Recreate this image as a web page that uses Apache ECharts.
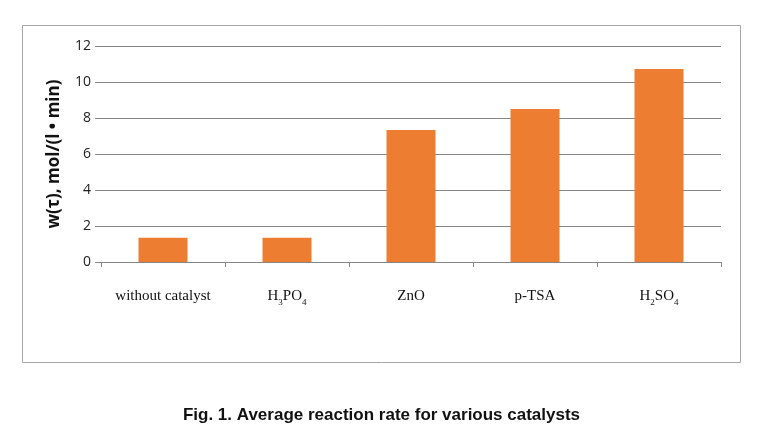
<!DOCTYPE html>
<html><head><meta charset="utf-8">
<script src="https://cdn.jsdelivr.net/npm/echarts@6/dist/echarts.min.js"></script>
<style>html,body{margin:0;padding:0;background:#fff}#c{width:763px;height:424px}</style>
</head><body><div id="c"></div>
<script>
const categories = ['without catalyst', 'H3PO4', 'ZnO', 'p-TSA', 'H2SO4'];
const categoryLabels = ['{n|without catalyst}', '{n|H}{s|3}{n|PO}{s|4}', '{n|ZnO}', '{n|p-TSA}', '{n|H}{s|2}{n|SO}{s|4}'];
const rates = [1.35, 1.35, 7.33, 8.5, 10.72];
const yTicks = [0, 2, 4, 6, 8, 10, 12];

const chart = echarts.init(document.getElementById('c'));
chart.setOption({
  animation: false,
  backgroundColor: '#fff',
  title: {
    text: 'Fig. 1. Average reaction rate for various catalysts',
    left: 'center', top: 402,
    textStyle: {fontFamily: 'Liberation Sans', fontWeight: 'bold', fontSize: 17, color: '#111'}
  },
  graphic: [{
    type: 'rect', shape: {x: 22.5, y: 25.5, width: 718, height: 337},
    style: {fill: 'none', stroke: '#a6a6a6', lineWidth: 1}
  }],
  grid: {left: 101, right: 42, top: 46, bottom: 162},
  xAxis: {
    type: 'category',
    data: categories,
    axisLine: {lineStyle: {color: '#868686', width: 1}},
    axisTick: {show: true, interval: 0, length: 5, lineStyle: {color: '#868686'}},
    axisLabel: {
      interval: 0,
      margin: 24,
      formatter: (v, i) => categoryLabels[i],
      rich: {
        n: {fontFamily: 'Liberation Serif', fontSize: 15, color: '#111', lineHeight: 18, verticalAlign: 'bottom'},
        s: {fontFamily: 'Liberation Serif', fontSize: 9, color: '#111', lineHeight: 18, verticalAlign: 'bottom', padding: [0, 0, -3, 0]}
      }
    }
  },
  yAxis: {
    type: 'value', min: 0, max: 12, interval: 2,
    name: 'w(τ), mol/(l • min)',
    nameLocation: 'middle', nameGap: 38,
    nameTextStyle: {fontFamily: 'Open Sans', fontWeight: 'bold', fontSize: 17, color: '#111'},
    axisLine: {show: false},
    axisTick: {show: true, length: 6, lineStyle: {color: '#868686'}},
    splitLine: {lineStyle: {color: '#868686', width: 1}},
    axisLabel: {
      margin: 10,
      fontFamily: 'Open Sans', fontSize: 14, color: '#222',
      formatter: v => yTicks.includes(v) ? String(v) : ''
    }
  },
  series: [{
    type: 'bar', data: rates, barWidth: 49,
    itemStyle: {color: '#ED7D31'}
  }]
});
</script></body></html>
